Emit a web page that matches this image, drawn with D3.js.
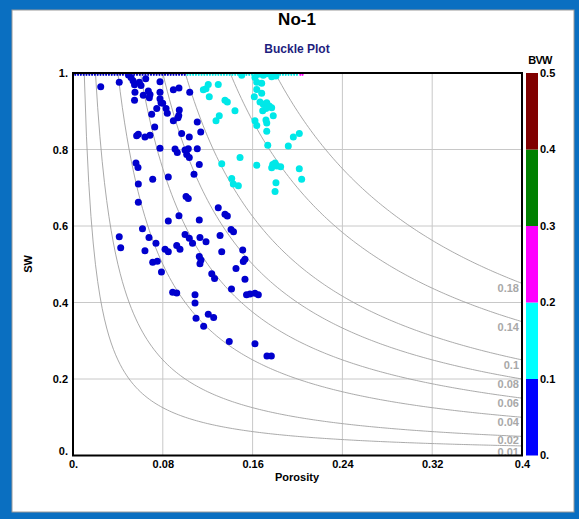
<!DOCTYPE html>
<html><head><meta charset="utf-8">
<script src="https://cdn.jsdelivr.net/npm/d3@7"></script>
<style>
html,body{margin:0;padding:0;background:#0a6fc1;}
svg{display:block;}
text{font-family:"Liberation Sans",Arial,sans-serif;}
</style></head>
<body>
<svg id="c" width="579" height="519"></svg>
<script>
// ---------- data ----------
const title = "No-1";
const subtitle = "Buckle Plot";
const xLabel = "Porosity";
const yLabel = "SW";
const colorbarTitle = "BVW";

const xTickValues = [0, 0.08, 0.16, 0.24, 0.32, 0.4];
const xTickLabels = ["0.", "0.08", "0.16", "0.24", "0.32", "0.4"];
const yTickValues = [0, 0.2, 0.4, 0.6, 0.8, 1];
const yTickLabels = ["0.", "0.2", "0.4", "0.6", "0.8", "1."];

const bvwCurves = [0.01, 0.02, 0.04, 0.06, 0.08, 0.1, 0.14, 0.18];
const bvwCurveLabels = ["0.01", "0.02", "0.04", "0.06", "0.08", "0.1", "0.14", "0.18"];

const bvwBins = [0, 0.1, 0.2, 0.3, 0.4, 0.5];
const bvwBinLabels = ["0.", "0.1", "0.2", "0.3", "0.4", "0.5"];
const bvwBarColors = ["#0000ff", "#00ffff", "#ff00ff", "#008000", "#800000"];
const bvwPointColors = ["#0000cd", "#00e8e8", "#ff00ff", "#008000", "#800000"];

// scattered samples: porosity and water saturation
const porosity = [
 0.0247,0.0412,0.0494,0.0517,0.0535,0.0548,0.0591,0.0606,0.0648,0.0775,
 0.0552,0.0548,0.0626,0.0671,0.0686,0.0680,0.0775,0.0775,0.0784,0.0799,
 0.0894,0.0944,0.1040,0.0746,0.0829,0.0840,0.0701,0.0947,0.0942,0.0935,
 0.0894,0.0728,0.0582,0.0567,0.0641,0.0686,0.0968,0.1036,0.0775,0.0909,
 0.0929,0.0998,0.1027,0.1013,0.1036,0.0561,0.0579,0.0710,0.0849,0.1078,
 0.1107,0.1138,0.1107,0.1125,0.0582,0.1007,0.1027,0.0582,0.0944,0.0849,
 0.0619,0.0412,0.0425,0.0677,0.0739,0.0641,0.0820,0.0849,0.0924,0.0953,
 0.0998,0.1036,0.1065,0.0710,0.0751,0.0788,0.0888,0.0924,0.1294,0.1354,
 0.1375,0.1125,0.1408,0.1430,0.1310,0.1131,0.1185,0.1512,0.1325,0.1125,
 0.1140,0.1131,0.1532,0.1517,0.1452,0.1236,0.1261,0.1532,0.1412,0.1546,
 0.1577,0.1621,0.1651,0.1087,0.1087,0.1205,0.1253,0.1096,0.1164,0.1392,
 0.1621,0.1728,0.1767,
 0.1185,0.1161,0.1205,0.1294,0.1214,0.1354,0.1375,0.1443,0.1303,0.1274,
 0.1503,0.1621,0.1651,0.1695,0.1726,0.1770,0.1808,0.1637,0.1681,0.1637,
 0.1681,0.1615,0.1666,0.1695,0.1726,0.1749,0.1719,0.1770,0.1690,0.1784,
 0.1719,0.1726,0.1621,0.1637,0.1726,0.1963,0.2016,0.1735,0.1918,0.1488,
 0.1325,0.1637,0.1779,0.1800,0.1770,0.1815,0.1850,0.2016,0.1414,0.2037,
 0.1428,0.1473,0.1808,0.1800
];
const sw = [
 0.964,0.976,0.995,0.988,0.980,0.969,0.976,0.967,0.985,0.977,
 0.950,0.929,0.942,0.953,0.944,0.935,0.950,0.933,0.922,0.921,
 0.956,0.961,0.950,0.907,0.907,0.895,0.892,0.903,0.889,0.883,
 0.875,0.859,0.840,0.836,0.833,0.837,0.842,0.833,0.803,0.801,
 0.792,0.799,0.802,0.787,0.779,0.765,0.753,0.722,0.728,0.735,
 0.872,0.846,0.802,0.761,0.710,0.677,0.672,0.662,0.627,0.613,
 0.593,0.572,0.543,0.570,0.555,0.535,0.539,0.533,0.549,0.539,
 0.578,0.568,0.555,0.505,0.508,0.480,0.427,0.425,0.648,0.631,
 0.626,0.616,0.591,0.585,0.575,0.570,0.559,0.537,0.533,0.520,
 0.511,0.501,0.513,0.507,0.489,0.475,0.463,0.461,0.435,0.420,
 0.422,0.424,0.420,0.420,0.399,0.369,0.361,0.359,0.338,0.298,
 0.292,0.260,0.260,
 0.959,0.956,0.970,0.970,0.938,0.929,0.924,0.901,0.888,0.875,
 0.994,0.988,0.997,0.994,0.998,0.990,0.992,0.976,0.973,0.957,
 0.947,0.938,0.924,0.918,0.922,0.914,0.907,0.909,0.901,0.888,
 0.877,0.869,0.875,0.863,0.848,0.833,0.842,0.811,0.809,0.779,
 0.763,0.759,0.761,0.765,0.752,0.757,0.755,0.750,0.724,0.722,
 0.710,0.705,0.713,0.690
];
// samples sitting at SW = 1 (row of dots on the top edge)
const topPorosity = [
 0.002,0.0045,0.007,0.0095,0.012,0.0145,0.017,0.0195,0.022,0.0245,
 0.027,0.0295,0.032,0.0345,0.037,0.0395,0.042,0.0445,0.047,0.0495,
 0.052,0.0545,0.057,0.0595,0.062,0.0645,0.067,0.0695,0.072,0.0745,
 0.077,0.0795,0.082,0.0845,0.087,0.0895,0.092,0.0945,0.097,0.0995,
 0.102,0.1045,0.107,0.1095,0.112,0.1145,0.117,0.1195,0.122,0.1245,
 0.127,0.1295,0.132,0.1345,0.137,0.1395,0.142,0.1445,0.147,0.1495,
 0.152,0.1545,0.157,0.1595,0.162,0.1645,0.167,0.1695,0.172,0.1745,
 0.177,0.1795,0.182,0.1845,0.187,0.1895,0.192,0.1945,0.197,0.1995,
 0.2025,0.2045
];
const topSw = 1.0;

// ---------- layout ----------
const svg = d3.select("#c");
const L = 73, R = 522, T = 73, B = 455.5;
const x = d3.scaleLinear().domain([0, 0.4]).range([L, R]);
const y = d3.scaleLinear().domain([0, 1]).range([B, T]);
const barY = d3.scaleLinear().domain([0, 0.5]).range([B, T]);
const colorOf = d3.scaleThreshold().domain(bvwBins.slice(1, -1)).range(bvwPointColors);

// panel
svg.append("rect").attr("x", 12).attr("y", 10).attr("width", 562).attr("height", 502)
  .attr("fill", "#ffffff").attr("stroke", "#9a9a9a").attr("stroke-width", 1);

// titles
svg.append("text").attr("x", 297).attr("y", 25).attr("text-anchor", "middle")
  .attr("font-size", 17).attr("font-weight", "bold").attr("fill", "#000").text(title);
svg.append("text").attr("x", 297).attr("y", 52.5).attr("text-anchor", "middle")
  .attr("font-size", 12).attr("font-weight", "bold").attr("fill", "#1e1e7e").text(subtitle);

// clip
svg.append("clipPath").attr("id", "clip").append("rect")
  .attr("x", L).attr("y", T).attr("width", R - L).attr("height", B - T);

// grid
const grid = svg.append("g");
grid.selectAll("line.v").data(xTickValues.slice(1, -1)).join("line")
  .attr("x1", d => x(d)).attr("x2", d => x(d)).attr("y1", T).attr("y2", B)
  .attr("stroke", "#c8c8c8").attr("stroke-width", 1);
grid.selectAll("line.h").data(yTickValues.slice(1, -1)).join("line")
  .attr("y1", d => y(d)).attr("y2", d => y(d)).attr("x1", L).attr("x2", R)
  .attr("stroke", "#c8c8c8").attr("stroke-width", 1);

// BVW iso-curves (SW = BVW / porosity)
const curveG = svg.append("g").attr("clip-path", "url(#clip)");
const line = d3.line().x(d => x(d[0])).y(d => y(d[1]));
bvwCurves.forEach(c => {
  const pts = d3.range(c, 0.4001, 0.002).map(p => [p, c / p]);
  curveG.append("path").attr("d", line(pts)).attr("fill", "none")
    .attr("stroke", "#a0a0a0").attr("stroke-width", 0.9);
});
// curve labels (the lowest one is partly hidden by the axis, as in the source)
svg.append("g").attr("clip-path", "url(#clip)").selectAll("text").data(bvwCurves).join("text")
  .attr("x", 519).attr("y", (d, i) => y(d / 0.4) + (i === 0 ? 2.5 : i === 1 ? 0 : 1))
  .attr("dominant-baseline", "hanging").attr("text-anchor", "end")
  .attr("font-size", 11).attr("font-weight", "bold").attr("fill", "#a8a8a8")
  .text((d, i) => bvwCurveLabels[i]);

// points
const ptsG = svg.append("g").attr("clip-path", "url(#clip)");
ptsG.selectAll("circle.p").data(porosity.map((p, i) => [p, sw[i]])).join("circle")
  .attr("cx", d => x(d[0])).attr("cy", d => y(d[1])).attr("r", 3.5)
  .attr("fill", d => colorOf(d[0] * d[1]));
ptsG.selectAll("circle.t").data(topPorosity).join("circle")
  .attr("cx", d => x(d)).attr("cy", y(topSw) + 1.8).attr("r", 1.1)
  .attr("fill", d => colorOf(d * topSw));

// frame
svg.append("rect").attr("x", L).attr("y", T).attr("width", R - L).attr("height", B - T)
  .attr("fill", "none").attr("stroke", "#000").attr("stroke-width", 2);

// axes
const xAxis = d3.axisBottom(x).tickValues(xTickValues).tickSize(0).tickPadding(5)
  .tickFormat((d, i) => xTickLabels[i]);
const gx = svg.append("g").attr("transform", `translate(0,${B})`).call(xAxis);
gx.select(".domain").remove();
gx.selectAll("text").attr("font-size", 11).attr("font-weight", "bold").attr("fill", "#000")
  .attr("font-family", "Liberation Sans, Arial, sans-serif");

const yAxis = d3.axisLeft(y).tickValues(yTickValues).tickSize(0).tickPadding(5)
  .tickFormat((d, i) => yTickLabels[i]);
const gy = svg.append("g").attr("transform", `translate(${L},0)`).call(yAxis);
gy.select(".domain").remove();
gy.selectAll("text").attr("font-size", 11).attr("font-weight", "bold").attr("fill", "#000")
  .attr("font-family", "Liberation Sans, Arial, sans-serif");
gy.selectAll(".tick").filter(d => d === 0).select("text").attr("dy", "-0.05em");

svg.append("text").attr("x", 297).attr("y", 481).attr("text-anchor", "middle")
  .attr("font-size", 11).attr("font-weight", "bold").text(xLabel);
svg.append("text").attr("transform", "translate(32,264) rotate(-90)").attr("text-anchor", "middle")
  .attr("font-size", 11).attr("font-weight", "bold").text(yLabel);

// colorbar
const cb = svg.append("g");
cb.selectAll("rect").data(bvwBarColors).join("rect")
  .attr("x", 526).attr("width", 12)
  .attr("y", (d, i) => barY(bvwBins[i + 1]))
  .attr("height", (d, i) => barY(bvwBins[i]) - barY(bvwBins[i + 1]))
  .attr("fill", d => d);
cb.selectAll("text").data(bvwBins).join("text")
  .attr("x", 540).attr("y", d => barY(d) + 1).attr("dominant-baseline", "middle")
  .attr("font-size", 11).attr("font-weight", "bold").text((d, i) => bvwBinLabels[i]);
svg.append("text").attr("x", 540).attr("y", 64).attr("text-anchor", "middle")
  .attr("font-size", 11).attr("font-weight", "bold").attr("letter-spacing", -0.8).text(colorbarTitle);
</script>
</body></html>
